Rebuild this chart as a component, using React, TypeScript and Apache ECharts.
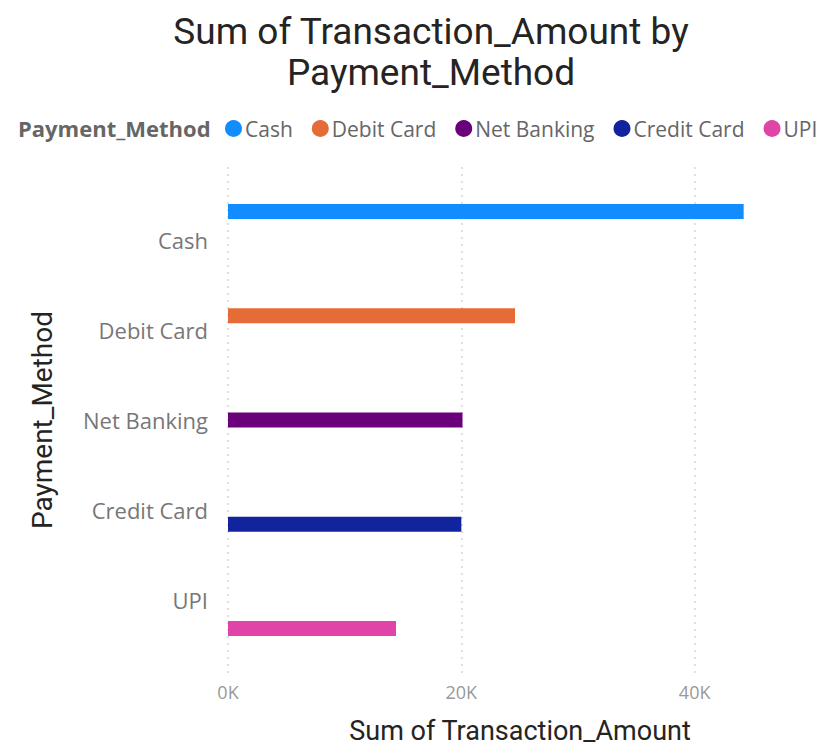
import React, { useEffect, useRef } from "react";
import * as echarts from "echarts";

const categories = ["Cash", "Debit Card", "Net Banking", "Credit Card", "UPI"];
const amounts = [44200, 24600, 20100, 20000, 14400];
const colors = ["#118DFF", "#E66C37", "#6B007B", "#12239E", "#E044A7"];
const xTicks = [0, 20000, 40000];

export default function App() {
  const ref = useRef<HTMLDivElement>(null);
  useEffect(() => {
    if (!ref.current) return;
    const chart = echarts.init(ref.current, null, { renderer: "svg" });
    const LEFT = 228;
    const RIGHT = 76;
    const series = categories.map((c, i) => ({
      name: c,
      type: "bar",
      xAxisIndex: 1,
      yAxisIndex: 1,
      barWidth: 15,
      barGap: "-5%",
      itemStyle: { color: colors[i] },
      data: categories.map((_, j) => (j === i ? amounts[i] : null)),
    }));
    chart.setOption({
      animation: false,
      backgroundColor: "#ffffff",
      textStyle: { fontFamily: "Open Sans" },
      graphic: [
        {
          type: "text",
          x: 431,
          y: 31,
          style: {
            text: "Sum of Transaction_Amount by",
            font: "400 37px Roboto",
            fill: "#252423",
            textAlign: "center",
            textVerticalAlign: "middle",
          },
        },
        {
          type: "text",
          x: 431,
          y: 72,
          style: {
            text: "Payment_Method",
            font: "400 37px Roboto",
            fill: "#252423",
            textAlign: "center",
            textVerticalAlign: "middle",
          },
        },
        {
          type: "text",
          x: 18,
          y: 128,
          style: {
            text: "Payment_Method",
            font: "bold 22px 'Open Sans'",
            fill: "#666666",
            textAlign: "left",
            textVerticalAlign: "middle",
          },
        },
        {
          type: "text",
          x: 42,
          y: 420,
          rotation: Math.PI / 2,
          style: {
            text: "Payment_Method",
            font: "400 28px Roboto",
            fill: "#252423",
            textAlign: "center",
            textVerticalAlign: "middle",
          },
        },
        {
          type: "text",
          x: 520,
          y: 731,
          style: {
            text: "Sum of Transaction_Amount",
            font: "400 27px Roboto",
            fill: "#252423",
            textAlign: "center",
            textVerticalAlign: "middle",
          },
        },
      ],
      legend: {
        data: categories,
        left: 220,
        top: 113,
        icon: "circle",
        itemWidth: 17,
        itemHeight: 17,
        itemGap: 19,
        textStyle: { fontSize: 21, color: "#666666", fontFamily: "Open Sans", padding: [0, 0, 0, -2] },
      },
      grid: [
        { left: LEFT, right: RIGHT, top: 167, height: 506 },
        { left: LEFT, right: RIGHT, top: 195, height: 450 },
      ],
      xAxis: [
        {
          type: "value",
          gridIndex: 0,
          min: 0,
          max: 45000,
          interval: 20000,
          axisLine: { show: false },
          axisTick: { show: false },
          axisLabel: {
            showMaxLabel: false,
            margin: 10,
            fontSize: 18,
            color: "#999999",
            fontFamily: "Open Sans",
            formatter: (v: number) => (xTicks.includes(v) ? v / 1000 + "K" : ""),
          },
          splitLine: {
            show: true,
            showMaxLine: false,
            lineStyle: { color: "#d6d6d6", type: [2, 5], width: 1.5 },
          },
        },
        {
          type: "value",
          gridIndex: 1,
          min: 0,
          max: 45000,
          show: false,
          splitLine: { show: false },
        },
      ],
      yAxis: [
        { type: "value", gridIndex: 0, min: 0, max: 1, show: false, splitLine: { show: false } },
        {
          type: "category",
          gridIndex: 1,
          data: categories,
          inverse: true,
          axisLine: { show: false },
          axisTick: { show: false },
          axisLabel: { fontSize: 22, color: "#777777", margin: 20, fontFamily: "Open Sans" },
        },
      ],
      series,
    });
    return () => chart.dispose();
  }, []);
  return (
    <div
      ref={ref}
      style={{ position: "fixed", left: 0, top: 0, width: 829, height: 748 }}
    />
  );
}
